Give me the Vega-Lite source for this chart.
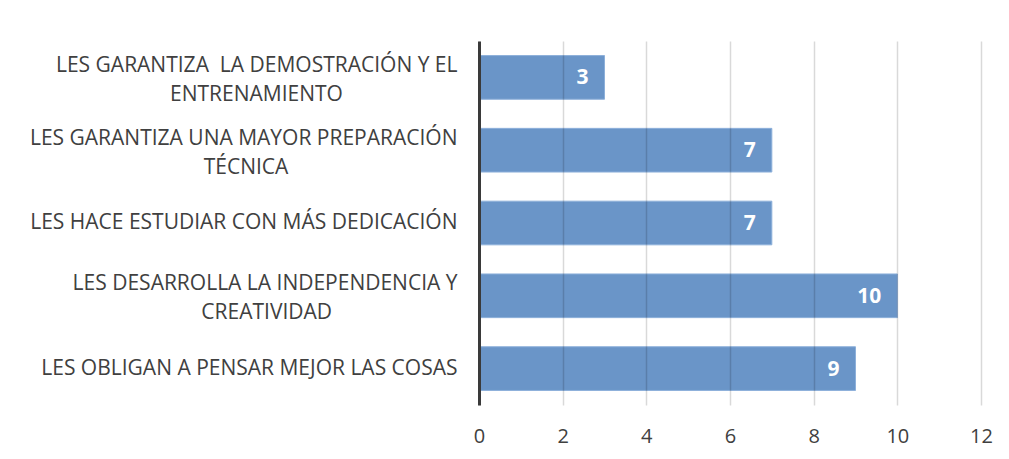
{
  "$schema": "https://vega.github.io/schema/vega-lite/v6.json",
  "width": 502,
  "height": 364,
  "autosize": {"type": "none"},
  "padding": {"left": 479, "top": 41, "right": 28, "bottom": 54},
  "background": "white",
  "data": {
    "values": [
      {"cat": "LES GARANTIZA\u00a0 LA DEMOSTRACIÓN Y EL|ENTRENAMIENTO\u00a0\u00a0\u00a0\u00a0\u00a0\u00a0\u00a0\u00a0\u00a0\u00a0\u00a0\u00a0\u00a0\u00a0\u00a0\u00a0\u00a0\u00a0\u00a0\u00a0\u00a0\u200b", "value": 3},
      {"cat": "LES GARANTIZA UNA MAYOR PREPARACIÓN|TÉCNICA\u00a0\u00a0\u00a0\u00a0\u00a0\u00a0\u00a0\u00a0\u00a0\u00a0\u00a0\u00a0\u00a0\u00a0\u00a0\u00a0\u00a0\u00a0\u00a0\u00a0\u00a0\u00a0\u00a0\u00a0\u00a0\u00a0\u00a0\u00a0\u00a0\u00a0\u00a0\u200b", "value": 7},
      {"cat": "LES HACE ESTUDIAR CON MÁS DEDICACIÓN", "value": 7},
      {"cat": "LES DESARROLLA LA INDEPENDENCIA Y|CREATIVIDAD\u00a0\u00a0\u00a0\u00a0\u00a0\u00a0\u00a0\u00a0\u00a0\u00a0\u00a0\u00a0\u00a0\u00a0\u00a0\u00a0\u00a0\u00a0\u00a0\u00a0\u00a0\u00a0\u00a0\u200b", "value": 10},
      {"cat": "LES OBLIGAN A PENSAR MEJOR LAS COSAS", "value": 9}
    ]
  },
  "encoding": {
    "y": {
      "field": "cat",
      "type": "nominal",
      "sort": null,
      "scale": {"paddingInner": 0.4, "paddingOuter": 0.2},
      "axis": {
        "title": null,
        "labelExpr": "split(datum.label, '|')",
        "labelOffset": {"expr": "indexof(datum.value, '|') >= 0 ? -11.5 : 0"},
        "labelFont": "Open Sans",
        "labelFontSize": 21,
        "labelColor": "#404040",
        "labelPadding": 22,
        "labelLimit": 600,
        "labelLineHeight": 29,
        "ticks": false,
        "grid": false,
        "domainColor": "#3a3a3a",
        "domainWidth": 3,
        "zindex": 2
      }
    },
    "x": {
      "field": "value",
      "type": "quantitative",
      "scale": {"domain": [0, 12], "nice": false},
      "axis": {
        "title": null,
        "values": [0, 2, 4, 6, 8, 10, 12],
        "grid": true,
        "gridColor": "#000000",
        "gridOpacity": 0.15,
        "gridWidth": 1.5,
        "ticks": false,
        "domain": false,
        "labelFlush": false,
        "labelFont": "Open Sans",
        "labelFontSize": 20,
        "labelColor": "#404040",
        "labelPadding": 21,
        "zindex": 1
      }
    }
  },
  "layer": [
    {
      "mark": {"type": "bar", "color": "#6A95C8", "stroke": "#8DB0DA", "strokeWidth": 1}
    },
    {
      "mark": {"type": "text", "align": "right", "baseline": "middle", "dx": -16, "dy": 1, "color": "white", "fontWeight": "bold", "fontSize": 21, "font": "Open Sans"},
      "encoding": {"text": {"field": "value", "type": "quantitative"}}
    }
  ],
  "config": {"view": {"stroke": null}}
}
